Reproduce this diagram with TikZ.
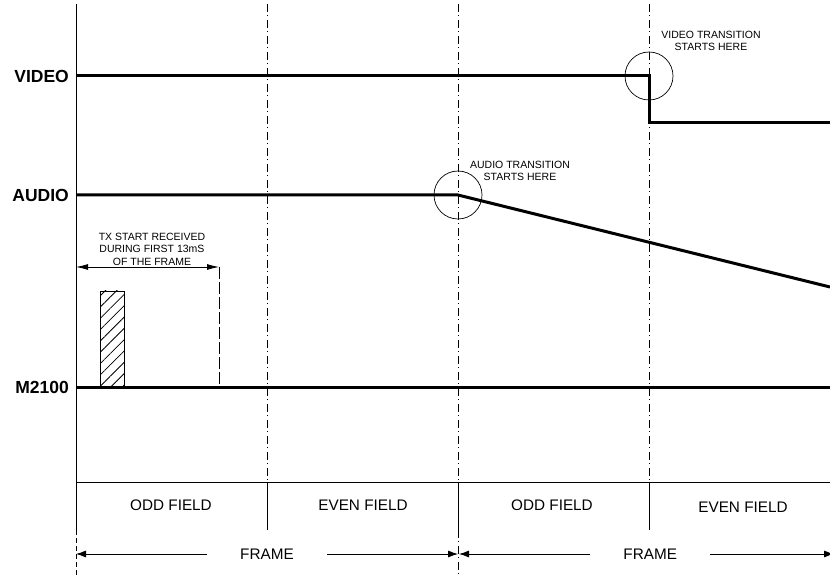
\documentclass[tikz,border=0pt]{standalone}
\usepackage{fontspec}
\setmainfont{Liberation Sans}
\usetikzlibrary{arrows.meta,patterns.meta}
\tikzset{
  signal/.style={line width=3pt},
  axisline/.style={line width=0.9pt},
  fieldsep/.style={line width=0.7pt, dash pattern=on 8pt off 3pt on 1pt off 4pt},
  siglabel/.style={anchor=east, inner sep=0pt, font=\fontsize{17.5}{20}\selectfont\bfseries},
  notelabel/.style={align=center, inner sep=0pt, font=\fontsize{10.5}{12.5}\selectfont},
  fieldlabel/.style={inner sep=0pt, font=\fontsize{15.3}{18}\selectfont},
  framearrow/.style={line width=0.8pt, {Latex[length=10pt,width=7pt]}-{Latex[length=10pt,width=7pt]}},
  framelabel/.style={fill=white, inner xsep=33pt, inner ysep=2pt, font=\fontsize{15.3}{18}\selectfont},
  txarrow/.style={line width=0.8pt, {Latex[length=12pt,width=6pt]}-{Latex[length=12pt,width=6pt]}},
  marker/.style={line width=0.7pt}
}
\begin{document}
\begin{tikzpicture}[x=1pt,y=-1pt]
  \useasboundingbox (0,0) rectangle (830,577);
  %%%%% GRID %%%%%
  \draw[axisline] (76,4) -- (76,530);
  \draw[axisline, dash pattern=on 5pt off 3pt] (76,530) -- (76,577);
  \foreach \x in {267,458,649} {
    \draw[fieldsep] (\x,4) -- (\x,482);
    \draw[axisline] (\x,482) -- (\x,530);
  }
  \draw[fieldsep] (458,530) -- (458,577);
  \draw[axisline] (76,482) -- (830,482);

  \node[fieldlabel] (odd1) at (171,505) {ODD FIELD};
  \node[fieldlabel] (even1) at (363,505) {EVEN FIELD};
  \node[fieldlabel] (odd2) at (552,505) {ODD FIELD};
  \node[fieldlabel] (even2) at (743,507) {EVEN FIELD};

  \coordinate (f1a) at (76,554);
  \coordinate (f1b) at (458,554);
  \coordinate (f2a) at (459,554);
  \coordinate (f2b) at (834,554);
  \draw[framearrow] (f1a) -- (f1b) node[midway, framelabel] (frame1) {FRAME};
  \draw[framearrow] (f2a) -- (f2b) node[pos=0.51, framelabel] (frame2) {FRAME};

  %%%%% SIGNALS %%%%%
  \node[siglabel] (video) at (69,76) {VIDEO};
  \node[siglabel] (audio) at (69,195) {AUDIO};
  \node[siglabel] (mtx) at (69,387) {M2100};

  \coordinate (vstart) at (76,76);
  \coordinate (vstep) at (649,76);
  \coordinate (vlow) at (649,123);
  \coordinate (vend) at (830,123);
  \draw[signal] (vstart) -- (vstep) -- (vlow) -- (vend);

  \coordinate (astart) at (76,195);
  \coordinate (aknee) at (458,195);
  \coordinate (aend) at (830,287);
  \draw[signal] (astart) -- (aknee) -- (aend);

  \coordinate (mstart) at (76,387);
  \coordinate (mend) at (830,387);
  \draw[signal] (mstart) -- (mend);

  %%%%% MARKERS %%%%%
  \draw[marker] (vstep) circle (24);
  \draw[marker] (aknee) circle (24);
  \node[notelabel] (vnote) at (711,41) {VIDEO TRANSITION\\STARTS HERE};
  \node[notelabel] (anote) at (520,171) {AUDIO TRANSITION\\STARTS HERE};

  \node[notelabel] (txnote) at (152,249) {TX START RECEIVED\\DURING FIRST 13mS\\OF THE FRAME};
  \coordinate (txa) at (76,267);
  \coordinate (txb) at (219,267);
  \coordinate (txc) at (219,387);
  \draw[txarrow] (txa) -- (txb);
  \draw[line width=0.8pt, dash pattern=on 12pt off 3pt] (txb) -- (txc);

  \draw[line width=0.7pt, pattern={Lines[angle=45,distance=8pt,line width=0.8pt]}] (100,291) rectangle (124,387);
  %%%%% END %%%%%
\end{tikzpicture}
\end{document}
